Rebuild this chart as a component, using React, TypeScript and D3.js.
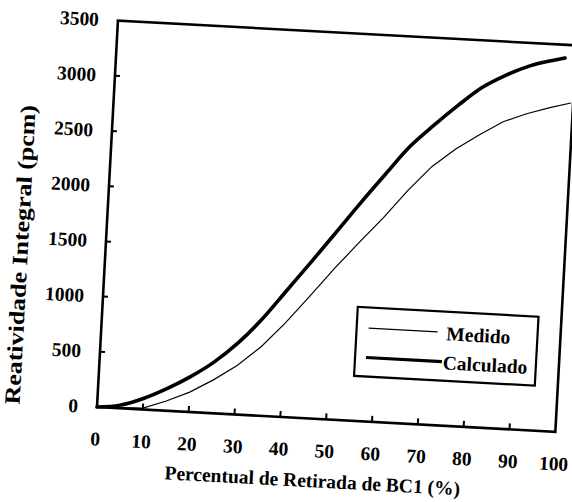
import React from "react";
import * as d3 from "d3";

const xTicks = [0, 10, 20, 30, 40, 50, 60, 70, 80, 90, 100];
const yTicks = [0, 500, 1000, 1500, 2000, 2500, 3000, 3500];

const medidoX = [0, 10, 15, 20, 25, 30, 35, 40, 45, 50, 55, 60, 65, 70, 75, 80, 85, 90, 95, 99.5];
const medidoY = [0, 12, 88, 180, 302, 444, 625, 852, 1106, 1365, 1610, 1845, 2103, 2334, 2505, 2645, 2775, 2858, 2925, 2977];

const calcX = [0, 5, 10, 15, 20, 25, 30, 35, 40, 45, 50, 55, 60, 65, 70, 75, 80, 85, 90, 95, 97.7];
const calcY = [0, 28, 100, 200, 320, 465, 650, 880, 1150, 1420, 1697, 1975, 2243, 2505, 2710, 2900, 3073, 3195, 3290, 3352, 3381];

const legendLabels = ["Medido", "Calculado"];
const xTitle = "Percentual de Retirada de BC1 (%)";
const yTitle = "Reatividade Integral (pcm)";

const W = 459;
const H = 387;
const FONT = "'Liberation Serif', 'Times New Roman', serif";

export default function App() {
  const x = d3.scaleLinear().domain([0, 100]).range([0, W]);
  const y = d3.scaleLinear().domain([0, 3500]).range([0, -H]);

  const medido = medidoX.map((v, i) => [v, medidoY[i]] as [number, number]);
  const calc = calcX.map((v, i) => [v, calcY[i]] as [number, number]);

  const lineLin = d3
    .line<[number, number]>()
    .x((d) => x(d[0]))
    .y((d) => y(d[1]))
    .curve(d3.curveLinear);
  const lineSmooth = d3
    .line<[number, number]>()
    .x((d) => x(d[0]))
    .y((d) => y(d[1]))
    .curve(d3.curveMonotoneX);

  return (
    <svg
      width={572}
      height={502}
      style={{ position: "absolute", left: 0, top: 0, background: "#fff" }}
    >
      <rect x={0} y={0} width={572} height={502} fill="#fff" />
      <g transform="translate(97,407) rotate(3.1)" fontFamily={FONT} fontWeight="bold" fill="#000">
        {/* frame */}
        <rect x={0} y={-H} width={W} height={H} fill="none" stroke="#000" strokeWidth={2.6} />
        {/* y ticks */}
        {yTicks.map((t) => (
          <g key={"y" + t}>
            {t > 0 && t < 3500 && (
              <line x1={0} x2={5} y1={y(t)} y2={y(t)} stroke="#000" strokeWidth={2} />
            )}
            <text x={-19} y={y(t)} textAnchor="end" dominantBaseline="central" fontSize={19.5}>
              {t}
            </text>
          </g>
        ))}
        {/* x ticks */}
        {xTicks.map((t) => (
          <g key={"x" + t}>
            {t > 0 && t < 100 && (
              <line x1={x(t)} x2={x(t)} y1={0} y2={-6} stroke="#000" strokeWidth={2} />
            )}
            <text x={x(t)} y={32} textAnchor="middle" dominantBaseline="central" fontSize={19.5}>
              {t}
            </text>
          </g>
        ))}
        {/* curves */}
        <path d={lineLin(medido) || ""} fill="none" stroke="#000" strokeWidth={1.2} />
        <path d={lineSmooth(calc) || ""} fill="none" stroke="#000" strokeWidth={3.6} strokeLinecap="round" />
        {/* legend */}
        <rect x={255} y={-114} width={181} height={69} fill="#fff" stroke="#000" strokeWidth={2.2} />
        <line x1={267} x2={336} y1={-93.5} y2={-93.5} stroke="#000" strokeWidth={1.2} />
        <text x={345} y={-92} dominantBaseline="central" fontSize={19.5}>
          {legendLabels[0]}
        </text>
        <line x1={266} x2={342} y1={-64} y2={-64} stroke="#000" strokeWidth={3.2} />
        <text x={343} y={-63} dominantBaseline="central" fontSize={19.5}>
          {legendLabels[1]}
        </text>
        {/* axis titles */}
        <text x={219} y={62} textAnchor="middle" dominantBaseline="central" fontSize={19.5}>
          {xTitle}
        </text>
        <text
          transform="translate(-85,-148) rotate(-90)"
          textAnchor="middle"
          dominantBaseline="central"
          fontSize={22}
          textLength={300}
          lengthAdjust="spacingAndGlyphs"
        >
          {yTitle}
        </text>
      </g>
    </svg>
  );
}
